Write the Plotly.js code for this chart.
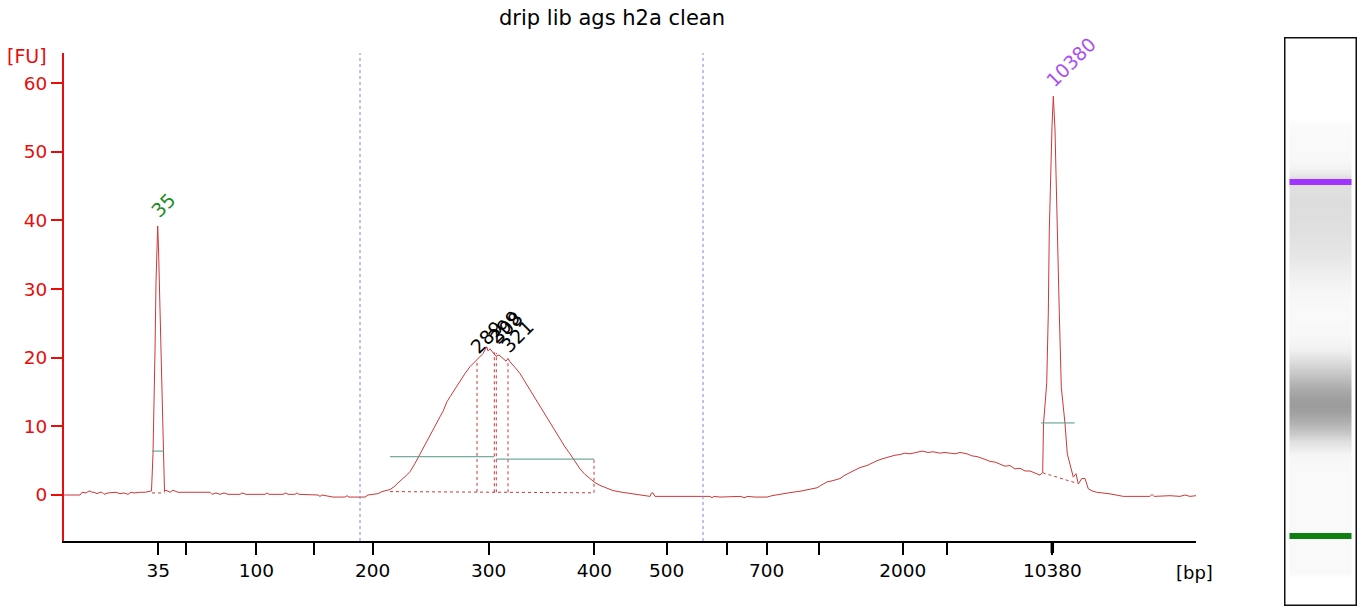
<!DOCTYPE html>
<html>
<head>
<meta charset="utf-8">
<script src="https://cdn.plot.ly/plotly-3.0.1.min.js"></script>
<style>html,body{margin:0;padding:0;background:#fff;}#chart{width:1361px;height:609px;}</style>
</head>
<body>
<div id="chart"></div>
<script>
// ---------- DATA ----------
const chartTitle = 'drip lib ags h2a clean';
// migration position (time units of the x axis) and fluorescence [FU]
const traceTime = [64,70,76,80,82,84,86,88,90,92,94,97,100,102,104,108,112,116,120,124,128,131,134,137,140,145,150,
  151.5,153,154,155,156,157,157.7,158.5,159.5,160.5,161.5,162.5,163.5,164.5,
  166,168,170,173,176,178,190,200,210,212,216,220,224,228,240,242,246,265,267,269,283,286,288,295,297,299,318,320,322,333,340,345,347,349,358,365,368,372,378,382,386,390,394,398,
  402,406,410,415,420,425,430,435,440,443,447,450,455,460,465,470,475,480,483,486.7,488,490,493,496,499,503,506,508,510,515,520,525,530,535,540,545,550,555,560,565,570,575,580,585,590,595,600,606,613,620,630,640,647,650,651.5,653,655,665,680,690,
  700,710,712,714,720,733,740,745,747,755,767,772,783,790,800,808,817,822,827,833,840,845,850,855,860,867,872,877,883,890,895,900,905,910,917,922,928,933,940,945,950,955,960,967,972,977,983,990,995,1000,1005,1010,1015,1020,1025,1030,1035,1040,
  1042.7,1043.5,1046.7,1048.3,1049.3,1050.7,1052,1053.3,1055,1056,1057.3,1059.3,1061.3,1065,1067.3,1070.7,1073.3,1076,1078.3,1081.7,1085,1088.3,1092,1096.7,1110,1123.3,1150,1152,1154,1170,1180,1185,1190,1196];
const traceFU = [0,0,0,0,0.4,0.3,0.3,0.5,0.6,0.4,0.4,0.2,0.4,0.4,0.1,0.3,0.3,0.4,0.2,0.3,0.1,0.4,0.3,0.4,0.4,0.4,0.5,
  0.6,6,12,21,31,37,39.2,36,30,24,16,9,2.0,0.5,
  0.7,0.6,0.4,0.7,0.5,0.4,0.4,0.4,0.4,0.1,0.3,0.1,0.3,0.1,0.1,0.3,0.1,0.1,0.3,0.1,0.1,0.3,0.1,0.1,0.3,0.1,0.0,-0.2,0.0,-0.3,-0.3,-0.3,-0.1,-0.3,-0.3,-0.3,0.0,0.1,0.2,0.5,0.6,0.8,1.2,1.8,
  2.3,2.8,3.4,4.6,6.0,7.3,8.7,10.1,11.4,12.2,13.6,14.3,15.5,16.7,17.7,18.7,19.4,20.1,20.6,21.6,21.0,21.3,20.8,20.2,20.4,19.9,19.5,19.9,19.4,18.6,17.7,16.5,15.3,14.0,12.8,11.6,10.4,9.2,8.0,7.0,6.0,4.8,3.8,3.0,2.4,1.8,1.4,1.0,0.65,0.45,0.2,0.0,-0.2,-0.2,0.3,0.3,-0.2,-0.2,-0.3,-0.3,
  -0.3,-0.2,-0.4,-0.2,-0.3,-0.3,-0.2,-0.4,-0.2,-0.3,-0.3,-0.1,0.2,0.35,0.55,0.8,1.05,1.5,1.9,2.1,2.4,2.9,3.3,3.6,4.0,4.3,4.7,5.0,5.3,5.6,5.8,5.9,6.1,6.0,6.25,6.4,6.2,6.3,6.1,6.2,6.1,6.0,6.2,6.0,5.7,5.6,5.3,4.9,4.8,4.55,4.2,4.3,3.8,3.9,3.5,3.5,3.2,2.9,
  3.3,10.4,16.2,26.5,38.6,48.3,53.7,58.1,53.2,46.9,37.6,26.5,15.7,10.4,6.0,4.05,2.6,3.1,1.6,2.4,2.4,0.9,0.6,0.4,0.17,-0.2,-0.2,0.1,-0.2,-0.1,-0.2,0.0,-0.2,-0.1];

// x axis (bp) ticks
const bpTickPos = [158.3,186,256.3,314.3,372.7,488.7,594.3,666.7,726.7,766.7,818.7,902.7,947,1052.3];
const bpTickText = ['35','','100','','200','300','400','500','','700','','2000','','10380'];
const fuTicks = [0,10,20,30,40,50,60];

// labelled peaks
const peakTime  = [158,477,494.3,496.3,508,1053.3];
const peakFU    = [39.2,19.4,20.8,20.7,19.5,58.1];
const peakLabel = ['35','289','299','308','321','10380'];
const peakKind  = ['lower','smear','smear','smear','smear','upper'];
const smearPeakBaseFU = [0.45,0.4,0.4,0.4];

// peak / region width markers (from, to, level)
const widthFrom  = [152.3,390,496,1041];
const widthTo    = [164,494.3,594,1074.7];
const widthLevel = [6.4,5.58,5.23,10.5];

// baselines under peaks (dotted)
const baseFrom   = [152,390,1042.7];
const baseTo     = [164.5,594,1075];
const baseFromFU = [0.3,0.5,3.24];
const baseToFU   = [0.3,0.32,1.8];
const regionEndTime = [594];
const regionEndTopFU = [5.23];

// region boundaries (blue dotted lines)
const regionBounds = [360,703];

// gel lane: position (px from page top) and grey level 0..255
const gelPos  = [37,118,126,160,168,174,178,183,190,200,215,235,255,272,290,310,335,350,362,375,388,398,405,412,422,432,442,455,475,520,560,572,578,606];
const gelGrey = [255,255,250,248,243,232,222,222,224,221,222,225,230,238,246,249,248,240,220,196,172,160,156,160,176,198,225,246,249,249,249,249,255,255];
const ladderPos   = [182,536];
const ladderColor = ['#a033ff','#0f800f'];

// ---------- LAYOUT HELPERS ----------
const W = 1361, H = 609;
const M = {l:64, r:4, t:37, b:3};
const PW = W - M.l - M.r, PH = H - M.t - M.b;
const px2x = p => (p - M.l) / PW;
const py2y = p => (H - M.b - p) / PH;

const RED = 'rgb(232,12,12)';
const TRACE = 'rgb(204,56,56)';
const TEAL = 'rgb(80,150,132)';
const FONT = 'DejaVu Sans, Verdana, sans-serif';

const traces = [];

// main electropherogram trace
traces.push({x: traceTime, y: traceFU, type:'scatter', mode:'lines',
  line:{color:TRACE, width:1}, hoverinfo:'skip', xaxis:'x', yaxis:'y'});

// dotted baselines
{
  const bx = [], by = [];
  baseFrom.forEach((f,i)=>{ bx.push(f, baseTo[i], null); by.push(baseFromFU[i], baseToFU[i], null); });
  regionEndTime.forEach((t,i)=>{ bx.push(t, t, null); by.push(baseToFU[1], regionEndTopFU[i], null); });
  traces.push({x:bx, y:by, type:'scatter', mode:'lines', line:{color:TRACE, width:1, dash:'dot'}, hoverinfo:'skip'});
}
// dashed peak lines in smear
{
  const dx = [], dy = [];
  let k = 0;
  peakTime.forEach((t,i)=>{ if(peakKind[i]==='smear'){ dx.push(t,t,null); dy.push(smearPeakBaseFU[k++], peakFU[i], null);} });
  traces.push({x:dx, y:dy, type:'scatter', mode:'lines', line:{color:TRACE, width:1, dash:'dot'}, hoverinfo:'skip'});
}
// width markers
{
  const wx = [], wy = [];
  widthFrom.forEach((f,i)=>{ wx.push(f, widthTo[i], null); wy.push(widthLevel[i], widthLevel[i], null); });
  traces.push({x:wx, y:wy, type:'scatter', mode:'lines', line:{color:TEAL, width:1}, hoverinfo:'skip'});
}

// gel lane heatmap
traces.push({type:'heatmap', xaxis:'x2', yaxis:'y2',
  x:[1289.5,1320.5,1351.5], y:gelPos, z:gelGrey.map(g=>[g,g]),
  zmin:0, zmax:255, zsmooth:'best', showscale:false, hoverinfo:'skip',
  colorscale:[[0,'rgb(0,0,0)'],[1,'rgb(255,255,255)']]});

const shapes = [];
regionBounds.forEach(b=>shapes.push({type:'line', xref:'x', yref:'y domain', x0:b, x1:b, y0:0, y1:1,
  line:{color:'rgb(130,130,225)', width:1, dash:'dot'}}));
// thicker ladder tick at 10380
shapes.push({type:'line', xref:'x', yref:'paper', x0:bpTickPos[bpTickPos.length-1], x1:bpTickPos[bpTickPos.length-1],
  y0:py2y(541), y1:py2y(553), line:{color:'black', width:3.5}});
// gel box & ladder bands
shapes.push({type:'rect', xref:'x2', yref:'y2', x0:1284.5, x1:1356.5, y0:37.5, y1:605.5, line:{color:'#111', width:2}, layer:'above'});
ladderPos.forEach((p,i)=>shapes.push({type:'rect', xref:'x2', yref:'y2', x0:1289.5, x1:1351.5, y0:p-3, y1:p+3,
  fillcolor:ladderColor[i], line:{width:0}}));

const annotations = [];
peakTime.forEach((t,i)=>{
  const col = peakKind[i]==='lower' ? 'rgb(30,140,30)' : (peakKind[i]==='upper' ? 'rgb(170,80,240)' : '#000');
  annotations.push({x:t, y:peakFU[i], xref:'x', yref:'y', text:peakLabel[i], showarrow:false,
    textangle:-45, xanchor:'left', yanchor:'bottom', xshift:-14, yshift:2,
    font:{family:FONT, size:19, color:col}});
});
annotations.push({xref:'paper', yref:'paper', x:px2x(27), y:py2y(56), text:'[FU]', showarrow:false,
  xanchor:'center', yanchor:'middle', font:{family:FONT, size:19, color:RED}});
annotations.push({xref:'paper', yref:'paper', x:px2x(1194), y:py2y(572), text:'[bp]', showarrow:false,
  xanchor:'center', yanchor:'middle', font:{family:FONT, size:18, color:'#000'}});

const layout = {
  width:W, height:H, margin:M, paper_bgcolor:'#fff', plot_bgcolor:'#fff', showlegend:false,
  title:{text:chartTitle, font:{family:FONT, size:21, color:'#000'}, x:612/W, xref:'container', xanchor:'center',
    y:1-18/H, yref:'container', yanchor:'middle'},
  xaxis:{domain:[0, px2x(1196)], range:[64,1196], tickvals:bpTickPos, ticktext:bpTickText, tickmode:'array',
    ticks:'outside', ticklen:12, tickwidth:2, tickcolor:'#000', showline:true, linecolor:'#000', linewidth:2,
    showgrid:false, zeroline:false, tickfont:{family:FONT, size:18.5, color:'#000'}, anchor:'y', fixedrange:true},
  yaxis:{domain:[py2y(541), py2y(53)], range:[-6.7,64.4], tickvals:fuTicks, tickmode:'array',
    ticks:'outside', ticklen:11, tickwidth:2, tickcolor:RED, showline:true, linecolor:RED, linewidth:2,
    showgrid:false, zeroline:false, tickfont:{family:FONT, size:18.5, color:RED}, anchor:'x', fixedrange:true},
  xaxis2:{domain:[px2x(1284), 1], range:[1284,1357], visible:false, anchor:'y2', fixedrange:true},
  yaxis2:{domain:[0,1], range:[606,37], visible:false, anchor:'x2', fixedrange:true},
  shapes:shapes, annotations:annotations
};

Plotly.newPlot('chart', traces, layout, {staticPlot:true, displayModeBar:false});
</script>
</body>
</html>
